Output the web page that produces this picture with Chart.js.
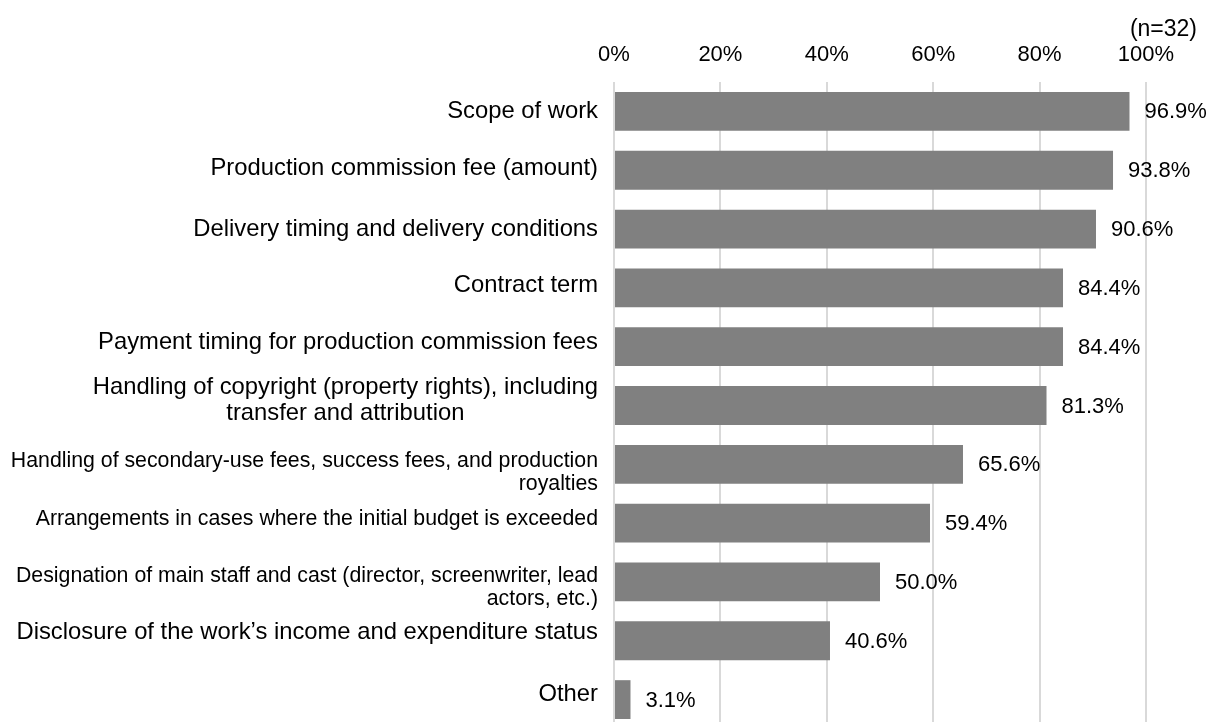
<!DOCTYPE html>
<html>
<head>
<meta charset="utf-8">
<script src="https://cdn.jsdelivr.net/npm/chart.js@4/dist/chart.umd.min.js"></script>
<style>
  html, body { margin: 0; padding: 0; background: #fff; overflow: hidden; }
  canvas { display: block; }
</style>
</head>
<body>
<canvas id="chart" width="1212" height="729"></canvas>
<script>
// Categories (one entry per line of the label)
const categories = [
  ["Scope of work"],
  ["Production commission fee (amount)"],
  ["Delivery timing and delivery conditions"],
  ["Contract term"],
  ["Payment timing for production commission fees"],
  ["Handling of copyright (property rights), including", "transfer and attribution"],
  ["Handling of secondary-use fees, success fees, and production", "royalties"],
  ["Arrangements in cases where the initial budget is exceeded"],
  ["Designation of main staff and cast (director, screenwriter, lead", "actors, etc.)"],
  ["Disclosure of the work\u2019s income and expenditure status"],
  ["Other"]
];

// Share of respondents (%)
const values = [96.9, 93.8, 90.6, 84.4, 84.4, 81.3, 65.6, 59.4, 50.0, 40.6, 3.1];

const tickValues = [0, 20, 40, 60, 80, 100];
const sampleNote = "(n=32)";

// how each category label is set: font size, alignment, vertical nudge
const labelStyle = [
  { size: 23.8, align: "right", dy: 0 },
  { size: 23.8, align: "right", dy: -2 },
  { size: 23.8, align: "right", dy: 0 },
  { size: 23.8, align: "right", dy: -2 },
  { size: 23.8, align: "right", dy: -4 },
  { size: 23.8, align: "center", dy: -5 },
  { size: 21.3, align: "right", dy: 8 },
  { size: 21.3, align: "right", dy: -4 },
  { size: 21.3, align: "right", dy: 6 },
  { size: 23.8, align: "right", dy: -8 },
  { size: 23.8, align: "right", dy: -5 }
];

const FONT = "'Liberation Sans', Arial, sans-serif";

const labelsPlugin = {
  id: "sideLabels",
  afterDatasetsDraw(chart) {
    const ctx = chart.ctx;
    const y = chart.scales.y;
    const x = chart.scales.x;
    const right = chart.chartArea.left - 16;
    ctx.save();
    ctx.fillStyle = "#000";
    ctx.textBaseline = "middle";

    // category labels
    categories.forEach((lines, i) => {
      const st = labelStyle[i];
      ctx.font = st.size + "px " + FONT;
      const lh = st.size * 1.08;
      const cy = y.getPixelForValue(i) + st.dy;
      const top = cy - (lines.length - 1) * lh / 2;
      let cx = right;
      if (st.align === "center") {
        const w = Math.max(...lines.map(l => ctx.measureText(l).width));
        cx = right - w / 2;
      }
      ctx.textAlign = st.align;
      lines.forEach((l, k) => ctx.fillText(l, cx, top + k * lh));
    });

    // value labels
    ctx.font = "22px " + FONT;
    ctx.textAlign = "left";
    values.forEach((v, i) => {
      ctx.fillText(v.toFixed(1) + "%", x.getPixelForValue(v) + 15, y.getPixelForValue(i) + 1);
    });

    // sample size note
    ctx.font = "23px " + FONT;
    ctx.textAlign = "right";
    ctx.fillText(sampleNote, 1197, 30);
    ctx.restore();
  }
};

new Chart(document.getElementById("chart"), {
  type: "bar",
  data: {
    labels: categories.map(c => c.join(" ")),
    datasets: [{
      data: values,
      backgroundColor: "#808080",
      borderWidth: 0,
      categoryPercentage: 1,
      barPercentage: 0.66
    }]
  },
  options: {
    indexAxis: "y",
    responsive: false,
    animation: false,
    layout: { padding: { top: 0, right: 66, bottom: 0, left: 0 } },
    plugins: {
      legend: { display: false },
      tooltip: { enabled: false }
    },
    scales: {
      x: {
        position: "top",
        min: 0,
        max: 100,
        afterBuildTicks(s) { s.ticks = tickValues.map(v => ({ value: v })); },
        afterFit(s) { s.height = 82; },
        border: { display: false },
        grid: { color: "#d9d9d9", lineWidth: 2, drawTicks: false },
        ticks: {
          padding: 14,
          color: "#000",
          font: { family: FONT, size: 22 },
          callback: v => v + "%"
        }
      },
      y: {
        afterFit(s) { s.width = 614; },
        border: { display: false },
        grid: { display: false },
        ticks: { display: false }
      }
    }
  },
  plugins: [labelsPlugin]
});
</script>
</body>
</html>
